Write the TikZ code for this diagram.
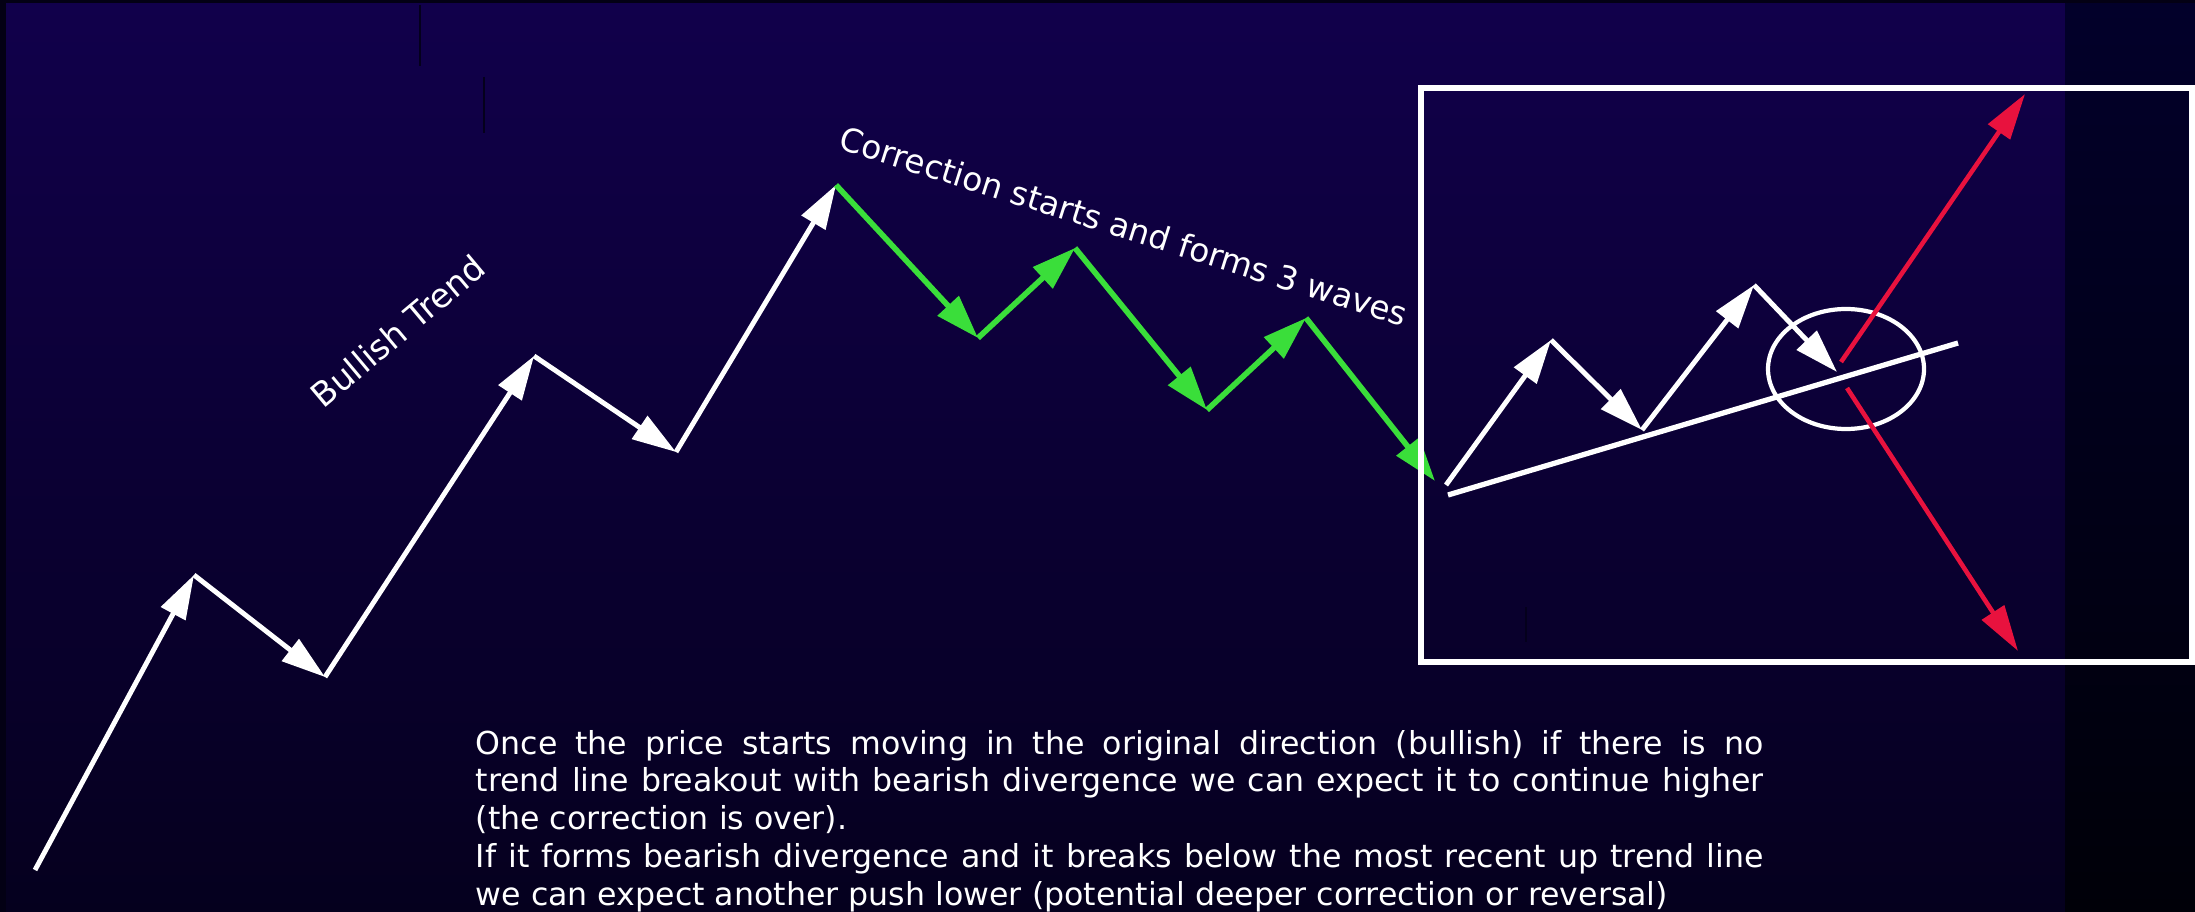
\documentclass[tikz,border=0pt]{standalone}
\usepackage{fontspec}
\setmainfont{DejaVu Sans}
\usetikzlibrary{positioning,arrows.meta,shapes.geometric}

\definecolor{bgtop}{RGB}{17,0,75}
\definecolor{bgbot}{RGB}{5,0,30}
\definecolor{stripTop}{RGB}{2,0,42}
\definecolor{stripBot}{RGB}{0,0,8}
\definecolor{rim}{RGB}{3,0,20}
\definecolor{scratch}{RGB}{4,0,28}
\definecolor{wavegreen}{RGB}{58,222,58}
\definecolor{breakred}{RGB}{232,18,62}

\begin{document}
\begin{tikzpicture}[x=0.1mm, y=-0.1mm,
    leg/.style={-{Triangle[length=4.4mm,width=2.7mm]}, white, line width=1.4pt},
    corrleg/.style={-{Triangle[length=4.4mm,width=2.8mm]}, wavegreen, line width=1.6pt},
    redleg/.style={-{Triangle[length=4.6mm,width=2.6mm]}, breakred, line width=1.3pt},
    tag/.style={text=white, font=\fontsize{9.6pt}{11pt}\selectfont, inner sep=0pt}]

\useasboundingbox (0,0) rectangle (2195,912);
\fill[rim] (0,0) rectangle (2195,912);
\shade[top color=bgtop, bottom color=bgbot] (6,4) rectangle (2065,912);
\shade[top color=stripTop, bottom color=stripBot] (2065,4) rectangle (2195,912);
\draw[scratch, line width=0.8pt] (420,5) -- (420,66) (484,77) -- (484,133) (1526,607) -- (1526,642);

% bullish legs
\coordinate (p0) at (35,870);
\coordinate (p1) at (194,575);
\coordinate (p2) at (325,677);
\coordinate (p3) at (534,356);
\coordinate (p4) at (676,452);
\coordinate (p5) at (836,185);
% correction legs
\coordinate (g1) at (978,338);
\coordinate (g2) at (1075,248);
\coordinate (g3) at (1207,410);
\coordinate (g4) at (1306,318);
\coordinate (g5) at (1435,481);
% new legs in the box
\coordinate (w0) at (1446,485);
\coordinate (w1) at (1551,340);
\coordinate (w2) at (1642,430);
\coordinate (w3) at (1754,285);
\coordinate (w4) at (1837,372);
\coordinate (t0) at (1448,495);
\coordinate (t1) at (1958,343);
\coordinate (r0) at (1841,362);
\coordinate (r1) at (2025,94);
\coordinate (r2) at (1847,388);
\coordinate (r3) at (2018,651);

\path[leg]
  (p0) edge (p1)
  (p1) edge (p2)
  (p2) edge (p3)
  (p3) edge (p4)
  (p4) edge (p5);
\path[corrleg]
  (p5) edge (g1)
  (g1) edge (g2)
  (g2) edge (g3)
  (g3) edge (g4)
  (g4) edge (g5);
\path[leg]
  (w0) edge (w1)
  (w1) edge (w2)
  (w2) edge (w3)
  (w3) edge (w4);
\draw[white, line width=1.5pt] (t0) -- (t1);
\node[draw=white, line width=1.2pt, ellipse, minimum width=15.6mm, minimum height=12mm] (zone) at (1846,369) {};
\path[redleg]
  (r0) edge (r1)
  (r2) edge (r3);
\node[draw=white, line width=1.7pt, minimum width=77.1mm, minimum height=57.4mm, inner sep=0pt] (frame) at (1806.5,375) {};

\node[tag, rotate=40] (bull) at (398,331) {Bullish Trend};
\node[tag, rotate=-17.5, font=\fontsize{9.3pt}{11pt}\selectfont] (corr) at (1124,226) {Correction starts and forms 3 waves};
\node[text=white, inner sep=0pt, anchor=base west, text width=128.8mm, align=justify,
      font=\fontsize{9pt}{10.81pt}\selectfont] (note) at (475,754)
  {Once the price starts moving in the original direction (bullish) if there is no\linebreak
   trend line breakout with bearish divergence we can expect it to continue higher\linebreak
   (the correction is over).\\
   If it forms bearish divergence and it breaks below the most recent up trend line\linebreak
   we can expect another push lower (potential deeper correction or reversal)};
\end{tikzpicture}
\end{document}
